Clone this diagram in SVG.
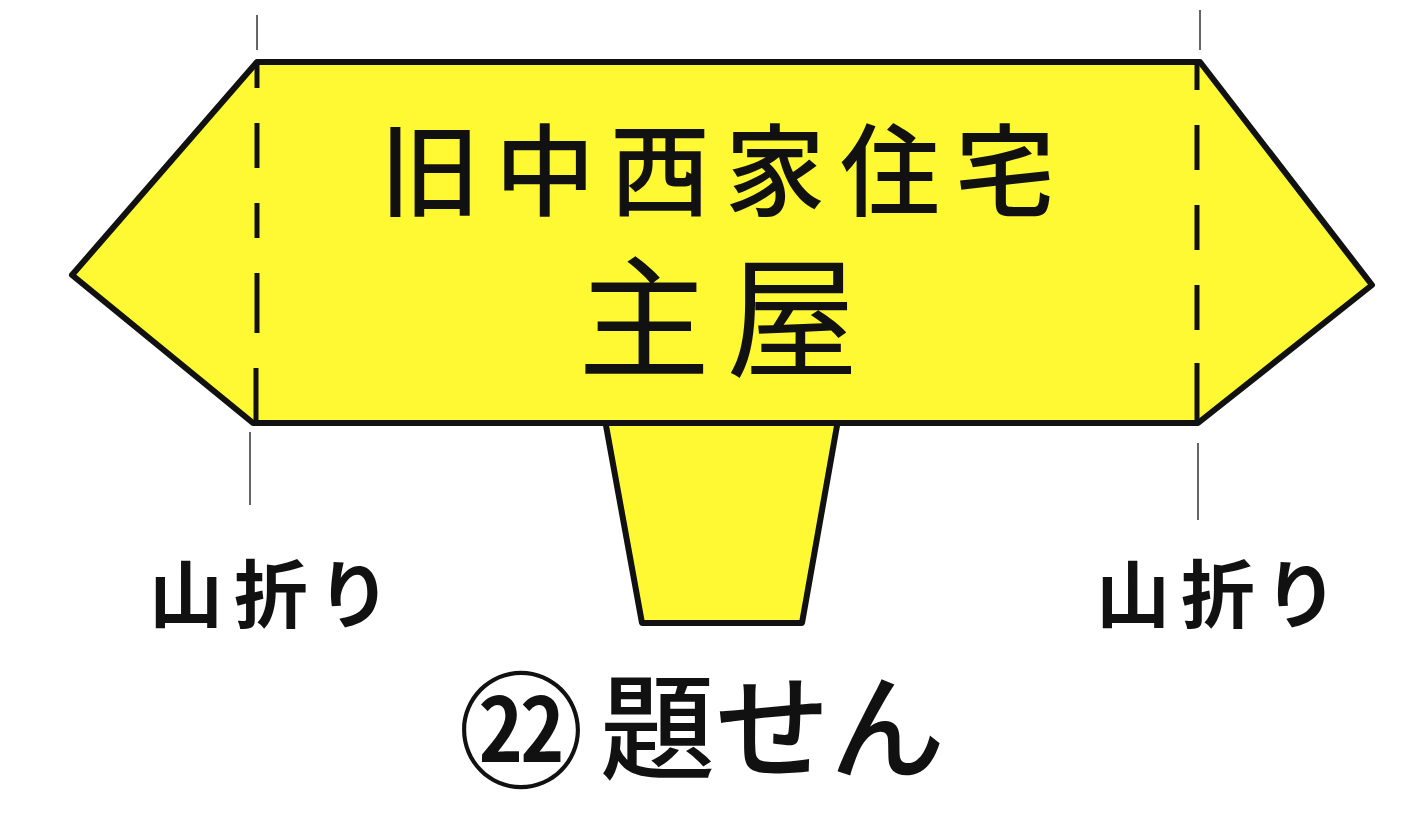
<svg xmlns="http://www.w3.org/2000/svg" width="1405" height="819" viewBox="0 0 1405 819">
<defs>
<style>
.fill{fill:#FFF933;stroke:#111;stroke-width:6;stroke-linejoin:round}
.fold{fill:none;stroke:#111;stroke-width:5}
.guide{fill:none;stroke:#666;stroke-width:2}
.jp{font-family:"Noto Sans CJK JP","Noto Sans CJK SC",sans-serif;fill:#111}
.title{font-size:100px;font-weight:500}
.main{font-size:132px;font-weight:400}
.fold-label{font-size:74px;font-weight:700}
.caption{font-size:115px;font-weight:500}
.num{font-size:126px;font-weight:500}
</style>
</defs>
<rect width="1405" height="819" fill="#fff"/>
<g id="tab">
<polygon class="fill" points="605,420 642,623 802,623 838,420"/>
</g>
<g id="label-body">
<polygon class="fill" points="257,62 1200,62 1372,285 1198,423 253,423 72,275"/>
<text class="jp title" x="380 495 610 725 840 955" y="208">旧中西家住宅</text>
<text class="jp main" x="578 726" y="367">主屋</text>
</g>
<g id="connectors">
<path class="fold" d="M257 62V88M257 123V168M257 203V238M257 273V333M256 368V423"/>
<path class="fold" d="M1197 63V90M1197 125V170M1197 205V250M1197 285V330M1197 363V423"/>
<path class="guide" d="M257 15V50M250 432V505M1200 10V50M1198 443V520"/>
</g>
<g id="fold-left">
<text class="jp fold-label" x="149 234 317" y="622">山折り</text>
</g>
<g id="fold-right">
<text class="jp fold-label" x="1096 1181 1264" y="622">山折り</text>
</g>
<g id="caption">
<text class="jp num" x="458" y="778">㉒</text>
<text class="jp caption" x="600 715 830" y="770">題せん</text>
</g>
</svg>
